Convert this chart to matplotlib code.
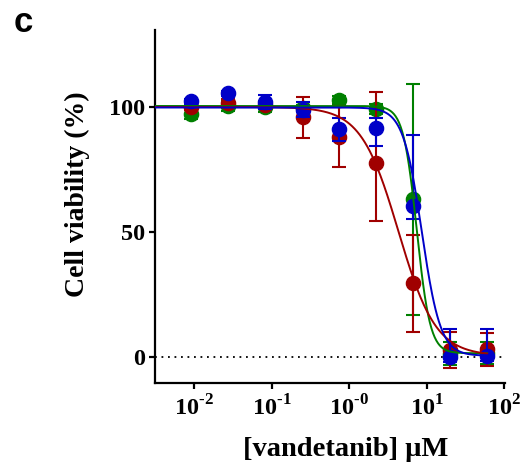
import numpy as np
import matplotlib as mpl
mpl.use("Agg")
import matplotlib.pyplot as plt

mpl.rcParams["mathtext.fontset"] = "custom"
mpl.rcParams["mathtext.rm"] = "Liberation Serif:bold"
mpl.rcParams["mathtext.bf"] = "Liberation Serif:bold"
mpl.rcParams["font.family"] = "Liberation Serif"
mpl.rcParams["font.weight"] = "bold"

# vandetanib concentrations (uM), 3-fold dilutions
conc = [0.0091, 0.027, 0.082, 0.25, 0.74, 2.2, 6.7, 20, 60]

# mean viability (%) and lower / upper error bars for the three lines
green_mean = [97.3, 100.5, 100.2, 99.5, 102.8, 99.2, 63.3, 1.4, 1.6]
green_lo = [2.1, 2.1, 2.2, 1.5, 1.5, 2.0, 46.3, 4.6, 4.4]
green_hi = [2.1, 2.1, 2.2, 1.5, 1.5, 2.0, 45.8, 4.6, 4.4]

red_mean = [100.0, 101.6, 101.0, 96.0, 88.0, 77.6, 29.6, 2.8, 3.2]
red_lo = [1.0, 1.5, 1.0, 8.4, 12.0, 23.2, 19.6, 7.2, 6.8]
red_hi = [1.0, 1.5, 1.0, 8.0, 12.4, 28.4, 19.2, 7.2, 6.4]

blue_mean = [102.4, 105.6, 102.0, 99.0, 91.1, 91.6, 60.4, 0.0, 0.4]
blue_lo = [1.0, 1.0, 2.8, 3.0, 4.6, 7.2, 5.2, 2.0, 2.0]
blue_hi = [1.0, 1.0, 2.8, 3.0, 4.6, 4.0, 28.4, 11.2, 10.8]

# fitted 4PL parameters: top, bottom, IC50 (uM), hill slope
green_fit = [100.4, 1.5, 7.4, 5.0]
red_fit = [100.0, 0.5, 4.3, 1.8]
blue_fit = [99.8, 0.5, 8.6, 3.6]

xtick_vals = [0.01, 0.1, 1, 10, 100]
xtick_labels = [r"$10^{\text{-}2}$", r"$10^{\text{-}1}$", r"$10^{\text{-}0}$",
                r"$10^{1}$", r"$10^{2}$"]
ytick_vals = [0, 50, 100]

colors = {"green": "#008000", "red": "#a00000", "blue": "#0000c8"}


def four_pl(x, top, bottom, ic50, hill):
    return bottom + (top - bottom) / (1 + (x / ic50) ** hill)


fig = plt.figure(figsize=(5.27, 4.71), dpi=100)
ax = fig.add_axes([155 / 527, 88 / 471, 350 / 527, 353 / 471])

xmin, xmax = 0.0031, 102
ax.set_xscale("log")
ax.set_xlim(xmin, xmax)
ax.set_ylim(-10.4, 130.8)

ax.plot([xmin, xmax], [0, 0], color="black", lw=1.3,
        linestyle=(0, (1, 2.6)), zorder=1)

xs = np.logspace(np.log10(xmin), np.log10(60), 400)
series = [
    ("green", green_mean, green_lo, green_hi, green_fit),
    ("red", red_mean, red_lo, red_hi, red_fit),
    ("blue", blue_mean, blue_lo, blue_hi, blue_fit),
]
for i, (name, mean, lo, hi, fit) in enumerate(series):
    c = colors[name]
    ax.errorbar(conc, mean, yerr=[lo, hi], fmt="o", color=c, ms=10.2,
                elinewidth=1.5, capsize=4.7, capthick=1.5, zorder=2 + i)
    ax.plot(xs, four_pl(xs, *fit), color=c, lw=1.4, zorder=5 + i)

for s in ["top", "right"]:
    ax.spines[s].set_visible(False)
for s in ["left", "bottom"]:
    ax.spines[s].set_linewidth(1.6)

ax.set_xticks(xtick_vals)
ax.set_xticklabels(xtick_labels)
ax.xaxis.set_minor_locator(mpl.ticker.NullLocator())
ax.set_yticks(ytick_vals)
ax.tick_params(axis="both", direction="out", length=4, width=1.6,
               labelsize=17.5)
ax.tick_params(axis="x", pad=5)
ax.tick_params(axis="y", pad=3)

fig.text(77 / 527, 1 - 194 / 471, "Cell viability (%)", rotation=90,
         ha="center", va="center", fontsize=20, fontweight="bold")
fig.text(346 / 527, 1 - 450 / 471, "[vandetanib] \u03bcM",
         ha="center", va="center", fontsize=20.5, fontweight="bold")
fig.text(14 / 527, 1 - 32 / 471, "c", family="Liberation Sans",
         fontweight="bold", fontsize=25, ha="left", va="baseline")

fig.savefig("out.png", dpi=100)
